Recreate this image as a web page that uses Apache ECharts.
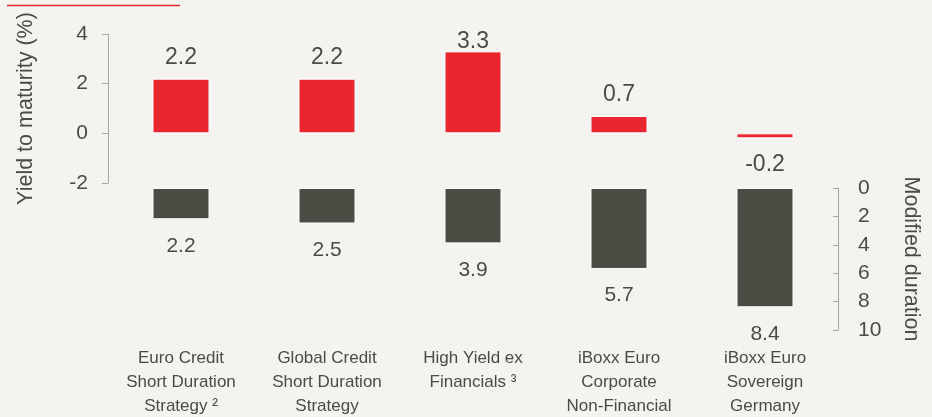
<!DOCTYPE html>
<html><head><meta charset="utf-8">
<script src="https://cdn.jsdelivr.net/npm/echarts@6/dist/echarts.min.js"></script>
<style>html,body{margin:0;padding:0;background:#f4f3f0;}#c{width:932px;height:417px;}</style>
</head><body><div id="c"></div>
<script>
const categories = ['Euro Credit\nShort Duration\nStrategy ²', 'Global Credit\nShort Duration\nStrategy', 'High Yield ex\nFinancials ³', 'iBoxx Euro\nCorporate\nNon-Financial', 'iBoxx Euro\nSovereign\nGermany'];
const yieldToMaturity = [2.2, 2.2, 3.3, 0.7, -0.2];
const modifiedDuration = [2.2, 2.5, 3.9, 5.7, 8.4];
const yieldTicks = [-2, 0, 2, 4];
const durationTicks = [0, 2, 4, 6, 8, 10];

const FONT = "'Liberation Sans',Arial,sans-serif";
const TXT = '#4a4a48';
const AX = '#a6a6a6';
const chart = echarts.init(document.getElementById('c'), null, {renderer: 'canvas'});

const redData = yieldToMaturity.map(v => {
  const d = {value: v};
  if (v < 0) d.label = {position: 'bottom', distance: 15};
  else if (v > 3) d.label = {distance: -2};
  return d;
});

chart.setOption({
  backgroundColor: '#f4f3f0',
  animation: false,
  textStyle: {fontFamily: FONT},
  graphic: [{type: 'line', shape: {x1: 7, y1: 5.5, x2: 180, y2: 5.5}, style: {stroke: '#e8262f', lineWidth: 1.3}}],
  grid: [
    {left: 108, right: 94, top: 34, height: 149, outerBoundsMode: 'none', containLabel: false},
    {left: 108, right: 94, top: 188, height: 142, outerBoundsMode: 'none', containLabel: false}
  ],
  xAxis: [
    {type: 'category', gridIndex: 0, data: categories, show: false},
    {type: 'category', gridIndex: 1, data: categories, position: 'bottom',
     axisLine: {show: false}, axisTick: {show: false},
     axisLabel: {color: TXT, fontSize: 17, lineHeight: 24, margin: 16, fontFamily: FONT, interval: 0}}
  ],
  yAxis: [
    {type: 'value', gridIndex: 0, position: 'left', min: yieldTicks[0], max: yieldTicks[yieldTicks.length - 1], interval: 2,
     axisLine: {show: true, lineStyle: {color: AX, width: 1}},
     axisTick: {show: true, length: 6, lineStyle: {color: AX}},
     splitLine: {show: false},
     axisLabel: {color: TXT, fontSize: 21, margin: 20, fontFamily: FONT},
     name: 'Yield to maturity (%)', nameLocation: 'middle', nameGap: 71, nameRotate: 90,
     nameTextStyle: {color: TXT, fontSize: 21.5, fontFamily: FONT}},
    {type: 'value', gridIndex: 1, position: 'right', inverse: true, min: durationTicks[0], max: durationTicks[durationTicks.length - 1], interval: 2,
     axisLine: {show: true, lineStyle: {color: AX, width: 1}},
     axisTick: {show: true, inside: true, length: 5, lineStyle: {color: AX}},
     splitLine: {show: false},
     axisLabel: {color: TXT, fontSize: 21, margin: 20, fontFamily: FONT},
     name: 'Modified duration', nameLocation: 'middle', nameGap: 62, nameRotate: -90,
     nameTextStyle: {color: TXT, fontSize: 21.5, fontFamily: FONT}}
  ],
  series: [
    {type: 'bar', xAxisIndex: 0, yAxisIndex: 0, data: redData, barWidth: 57,
     itemStyle: {color: '#e8262f', borderColor: '#ffffff', borderWidth: 1},
     label: {show: true, position: 'top', distance: 10, color: TXT, fontSize: 23, fontFamily: FONT,
             formatter: p => p.value.toFixed(1)}},
    {type: 'bar', xAxisIndex: 1, yAxisIndex: 1, data: modifiedDuration, barWidth: 57,
     itemStyle: {color: '#4a4b42', borderColor: '#ffffff', borderWidth: 1},
     label: {show: true, position: 'bottom', distance: 16, color: TXT, fontSize: 21, fontFamily: FONT,
             formatter: p => p.value.toFixed(1)}}
  ]
});
</script></body></html>
